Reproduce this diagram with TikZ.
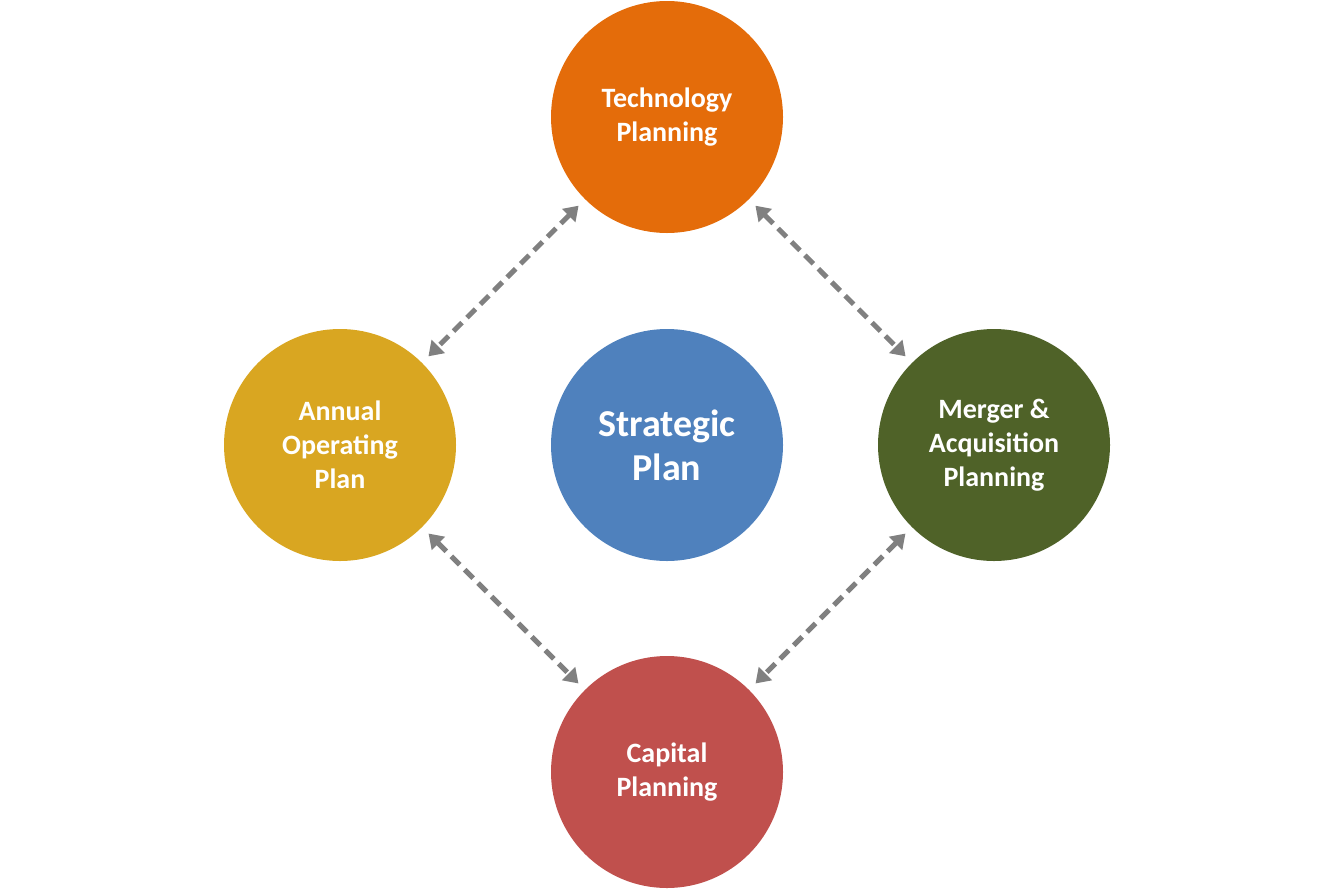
\documentclass[tikz,border=0pt]{standalone}
\usepackage{fontspec}
\setmainfont{Carlito}
\usetikzlibrary{arrows.meta}
\definecolor{corange}{HTML}{E46C0A}
\definecolor{cblue}{HTML}{4F81BD}
\definecolor{cgold}{HTML}{D9A621}
\definecolor{cgreen}{HTML}{4F6228}
\definecolor{cred}{HTML}{C0504D}
\definecolor{lblue}{RGB}{185,201,228}
\definecolor{dgray}{RGB}{128,128,128}
\begin{document}
\begin{tikzpicture}[x=1pt,y=-1pt,
  circ/.style={circle,minimum size=232pt,inner sep=0pt,text=white,font=\bfseries\fontsize{28}{34}\selectfont,align=center},
  blk/.style={draw=none,line width=26pt,lblue,{Triangle[length=20pt,width=46pt]}-{Triangle[length=20pt,width=46pt]},shorten <=5pt,shorten >=5pt},
  dsh/.style={dgray,line width=5pt,dash pattern=on 12pt off 7pt,{Triangle[length=14pt,width=18pt]}-{Triangle[length=14pt,width=18pt]},shorten <=9pt,shorten >=9pt}]
\useasboundingbox (0,0) rectangle (1334,889);
\node[circ,fill=corange] (t) at (667,117) {Technology\\Planning};
\node[circ,fill=cblue,font=\bfseries\fontsize{38}{44}\selectfont] (c) at (667,445) {Strategic\\Plan};
\node[circ,fill=cgold] (l) at (340,445) {Annual\\Operating\\Plan};
\node[circ,fill=cgreen] (r) at (994,445) {Merger \&\\Acquisition\\Planning};
\node[circ,fill=cred] (b) at (667,772) {Capital\\Planning};
\draw[blk] (t) -- (c);
\draw[blk] (c) -- (b);
\draw[blk] (l) -- (c);
\draw[blk] (c) -- (r);
\draw[dsh] (t) -- (l);
\draw[dsh] (t) -- (r);
\draw[dsh] (l) -- (b);
\draw[dsh] (r) -- (b);
\end{tikzpicture}
\end{document}
